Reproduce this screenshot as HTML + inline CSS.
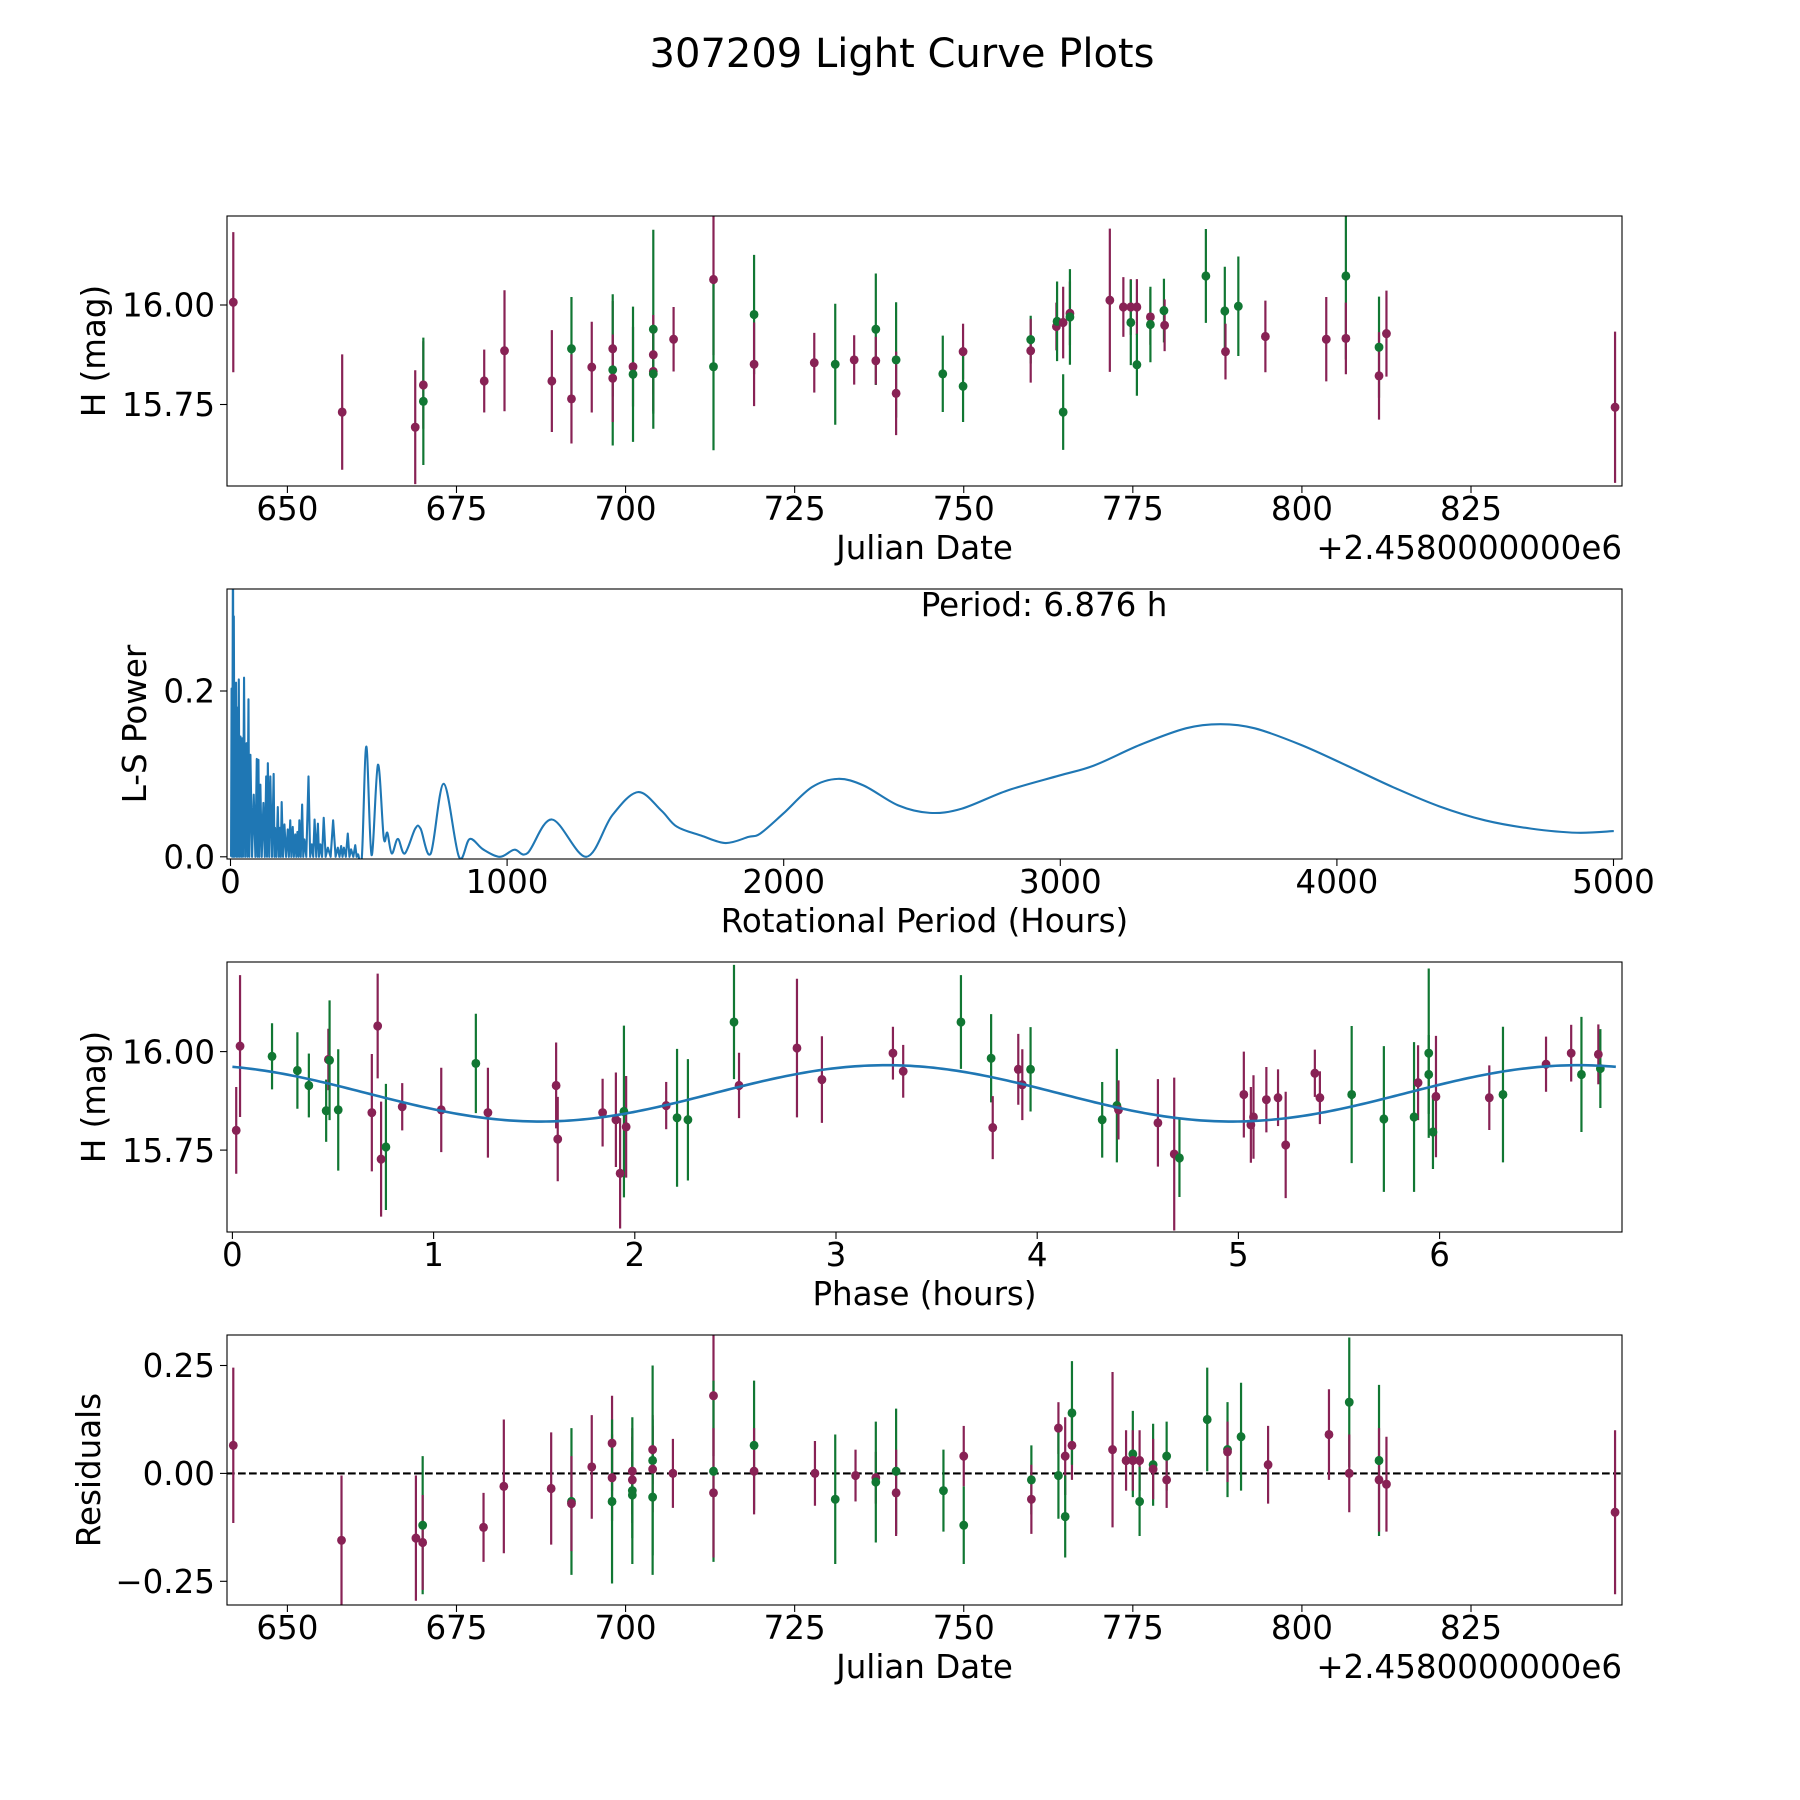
<!DOCTYPE html>
<html><head><meta charset="utf-8"><title>307209 Light Curve Plots</title>
<style>
html,body{margin:0;padding:0;background:#fff;}
svg{display:block;font-family:"DejaVu Sans","Liberation Sans",sans-serif;}
</style></head>
<body>
<svg id="fig" width="1800" height="1800" viewBox="0 0 1800 1800" xmlns="http://www.w3.org/2000/svg">
<rect width="1800" height="1800" fill="#fff"/>
<text x="902" y="67" font-size="40" text-anchor="middle">307209 Light Curve Plots</text>
</svg>
<script>
// ---------- Panel 1: light curve (date, mag, err, color) ----------
const lcDate = [642.0,658.1,668.9,670.1,670.1,679.1,682.1,689.1,692.0,692.0,695.0,698.1,698.1,698.1,701.1,701.1,704.1,704.1,704.1,704.1,707.1,713.0,713.0,719.0,719.0,727.9,731.0,733.8,737.0,737.0,740.0,740.0,746.9,749.9,749.9,759.9,759.9,763.7,763.8,764.7,764.7,765.7,765.7,771.6,773.6,774.7,774.7,775.6,775.6,777.6,777.6,779.6,779.7,785.8,788.6,788.7,790.6,794.6,803.6,806.5,806.5,811.4,811.4,812.5,846.3];
const lcMag = [16.007,15.731,15.693,15.799,15.758,15.809,15.885,15.809,15.890,15.764,15.844,15.890,15.837,15.816,15.845,15.826,15.939,15.875,15.833,15.827,15.914,16.064,15.845,15.976,15.851,15.855,15.851,15.862,15.939,15.860,15.862,15.778,15.827,15.883,15.796,15.913,15.885,15.946,15.959,15.956,15.731,15.979,15.970,16.012,15.995,15.995,15.956,15.995,15.850,15.970,15.951,15.986,15.949,16.073,15.985,15.883,15.997,15.921,15.914,16.073,15.916,15.894,15.822,15.928,15.743];
const lcErr = [0.176,0.145,0.143,0.11,0.16,0.079,0.152,0.128,0.13,0.112,0.114,0.12,0.19,0.11,0.10,0.17,0.25,0.10,0.10,0.10,0.081,0.19,0.21,0.15,0.105,0.075,0.152,0.062,0.14,0.06,0.145,0.105,0.096,0.07,0.09,0.06,0.08,0.06,0.10,0.09,0.095,0.08,0.12,0.18,0.075,0.07,0.107,0.07,0.078,0.07,0.095,0.08,0.065,0.118,0.111,0.07,0.125,0.09,0.106,0.21,0.09,0.127,0.11,0.108,0.19];
const lcFilt = ["M","M","M","M","G","M","M","M","G","M","M","M","G","M","M","G","G","M","M","G","M","M","G","G","M","M","G","M","G","M","G","M","G","M","G","G","M","M","G","M","G","M","G","M","M","M","G","M","G","M","G","G","M","G","G","M","G","M","M","G","M","G","M","M","M"];

// ---------- Panel 2: Lomb-Scargle periodogram ----------
const lsPeriod = [2,4,6,9,11,12,15,20,22,24,27,30,33,36,39,42,45,49,53,58,61,65,68,72,78,84,90,95,98,101,104,108,113,119,124,129,132,135,140,144,150,156,159,161,166,171,175,179,182,185,190,195,201,207,211,216,220,225,229,234,238,242,246,249,254,259,263,267,274,282,288,294,299,304,310,316,320,325,331,337,344,352,362,371,380,388,394,400,405,410,417,424,430,436,444,451,456,461,475,491,510,533,554,567,583,605,630,668,687,724,771,826,865,913,974,1026,1074,1162,1286,1380,1473,1557,1613,1702,1790,1873,1915,1998,2102,2196,2289,2414,2528,2643,2809,2996,3121,3288,3454,3579,3703,3870,4036,4203,4369,4535,4702,4868,5001];
const lsPower = [0.0,0.203,0.0,0.40,0.0,0.29,0.0,0.21,0.0,0.18,0.0,0.214,0.0,0.145,0.0,0.143,0.0,0.216,0.0,0.137,0.0,0.19,0.0,0.123,0.0,0.075,0.0,0.118,0.0,0.117,0.0,0.087,0.0,0.065,0.0,0.097,0.0,0.113,0.0,0.097,0.0,0.10,0.0,0.035,0.0,0.06,0.0,0.035,0.0,0.066,0.0,0.039,0.0,0.033,0.0,0.044,0.0,0.036,0.0,0.027,0.0,0.03,0.0,0.044,0.0,0.063,0.0,0.021,0.0,0.097,0.0,0.015,0.0,0.045,0.0,0.04,0.0,0.015,0.0,0.047,0.0,0.011,0.0,0.044,0.0,0.011,0.0,0.013,0.0,0.011,0.0,0.028,0.0,0.009,0.0,0.014,0.0,0.003,0.0,0.133,0.002,0.111,0.023,0.029,0.004,0.0215,0.004,0.034,0.034,0.004,0.088,0.0,0.0215,0.009,0.0,0.0085,0.0045,0.045,0.0,0.05,0.078,0.056,0.0365,0.0255,0.0166,0.024,0.028,0.052,0.084,0.094,0.086,0.062,0.053,0.058,0.080,0.098,0.110,0.135,0.155,0.160,0.155,0.135,0.110,0.084,0.061,0.044,0.034,0.029,0.031];
const bestPeriodLabel = "Period: 6.876 h";

// ---------- Panel 3: phased light curve ----------
const phPhase = [0.019,0.038,0.197,0.323,0.38,0.466,0.477,0.483,0.526,0.693,0.722,0.739,0.763,0.844,1.038,1.21,1.27,1.609,1.617,1.84,1.906,1.927,1.946,1.957,2.156,2.21,2.264,2.493,2.518,2.806,2.93,3.283,3.334,3.621,3.771,3.779,3.906,3.926,3.967,4.323,4.396,4.404,4.6,4.681,4.707,5.027,5.062,5.075,5.139,5.197,5.235,5.38,5.405,5.563,5.723,5.873,5.893,5.946,5.946,5.967,5.982,6.247,6.315,6.529,6.654,6.705,6.789,6.799];
const phMag = [15.80,16.014,15.988,15.952,15.914,15.85,15.980,15.978,15.852,15.845,16.065,15.727,15.758,15.86,15.852,15.970,15.845,15.914,15.778,15.845,15.827,15.691,15.848,15.809,15.863,15.832,15.827,16.075,15.914,16.009,15.929,15.996,15.950,16.075,15.983,15.807,15.955,15.916,15.955,15.827,15.863,15.852,15.819,15.74,15.73,15.891,15.814,15.834,15.878,15.883,15.763,15.945,15.883,15.891,15.829,15.834,15.921,15.996,15.942,15.796,15.886,15.883,15.891,15.968,15.996,15.942,15.993,15.957];
const phErr = [0.11,0.18,0.084,0.097,0.081,0.079,0.078,0.152,0.154,0.149,0.133,0.146,0.16,0.06,0.107,0.126,0.114,0.109,0.107,0.086,0.12,0.14,0.218,0.129,0.06,0.175,0.154,0.145,0.083,0.176,0.11,0.067,0.067,0.119,0.112,0.08,0.09,0.09,0.107,0.096,0.144,0.075,0.111,0.194,0.099,0.109,0.096,0.106,0.083,0.072,0.135,0.06,0.067,0.174,0.185,0.19,0.095,0.215,0.10,0.094,0.154,0.082,0.172,0.07,0.072,0.146,0.076,0.10];
const phFilt = ["M","M","G","G","G","G","M","G","G","M","M","M","G","M","M","G","M","M","M","M","M","M","G","M","M","G","G","G","M","M","M","M","M","G","G","M","M","M","G","G","G","M","M","M","G","M","M","M","M","M","M","M","M","G","G","G","M","G","G","G","M","M","G","M","M","G","M","G"];
const fitMean = 15.894, fitAmp = 0.0715, fitPeak = 3.25, fitHalfPeriod = 3.438;

// ---------- Panel 4: residuals ----------
const rsDate = [642,658,669,670,670,679,682,689,692,692,695,698,698,698,701,701,701,701,704,704,704,704,707,713,713,713,719,719,728,731,734,737,737,740,740,747,750,750,760,760,764,764,765,765,766,766,772,774,775,775,776,776,778,778,780,780,786,789,789,791,795,804,807,807,811.4,811.4,812.5,846.3];
const rsVal = [0.065,-0.155,-0.15,-0.12,-0.16,-0.125,-0.03,-0.035,-0.065,-0.07,0.015,0.07,-0.01,-0.065,0.005,-0.015,-0.04,-0.05,0.055,0.03,0.01,-0.055,0.0,0.18,0.005,-0.045,0.065,0.005,0.0,-0.06,-0.005,-0.01,-0.02,0.005,-0.045,-0.04,0.04,-0.12,-0.015,-0.06,0.105,-0.005,0.04,-0.1,0.065,0.14,0.055,0.03,0.045,0.03,0.03,-0.065,0.02,0.01,0.04,-0.015,0.125,0.055,0.05,0.085,0.02,0.09,0.165,0.0,0.03,-0.015,-0.025,-0.09];
const rsErr = [0.18,0.15,0.145,0.16,0.11,0.08,0.155,0.13,0.17,0.11,0.12,0.11,0.10,0.19,0.10,0.10,0.17,0.10,0.08,0.22,0.10,0.18,0.08,0.14,0.21,0.15,0.15,0.10,0.075,0.15,0.06,0.06,0.14,0.145,0.10,0.095,0.07,0.09,0.08,0.08,0.06,0.10,0.09,0.095,0.08,0.12,0.18,0.07,0.10,0.07,0.07,0.08,0.095,0.07,0.08,0.065,0.12,0.11,0.07,0.125,0.09,0.105,0.15,0.09,0.175,0.12,0.11,0.19];
const rsFilt = ["M","M","M","G","M","M","M","M","G","M","M","M","M","G","M","M","G","G","M","G","M","G","M","M","G","M","G","M","M","G","M","M","G","G","M","G","M","G","G","M","M","G","M","G","M","G","M","M","G","M","M","G","G","M","G","M","G","G","M","G","M","M","G","M","G","M","M","M"];

const COLORS = {M:"#882255", G:"#117733"};
const NS = "http://www.w3.org/2000/svg";
const svg = document.getElementById("fig");
const L = 227, R = 1622;
const AX = [{t:216,b:486},{t:589,b:859},{t:962,b:1232},{t:1335,b:1605}];

function mk(tag, attrs, parent){
  const e = document.createElementNS(NS, tag);
  for (const k in attrs) e.setAttribute(k, attrs[k]);
  (parent||svg).appendChild(e);
  return e;
}
function linScale(d0,d1,r0,r1){ return v => r0 + (v-d0)*(r1-r0)/(d1-d0); }

function drawFrame(i, xs, ys, xticks, xfmt, yticks, yfmt, xlabel, ylabel, ylabelX, name){
  const g = mk("g", {});
  
  
  const a = AX[i];
  const clip = mk("clipPath", {id:"clip"+i}, g);
  mk("rect", {x:L, y:a.t, width:R-L, height:a.b-a.t}, clip);
  const plot = mk("g", {"clip-path":"url(#clip"+i+")"}, g);
  
  
  xticks.forEach(v => {
    const x = xs(v);
    mk("line", {x1:x, x2:x, y1:a.b, y2:a.b+7, stroke:"#000", "stroke-width":1.1}, g);
    const t = mk("text", {x:x, y:a.b+34, "font-size":32.5, "text-anchor":"middle"}, g);
    t.textContent = xfmt(v);
    
    
  });
  yticks.forEach(v => {
    const y = ys(v);
    mk("line", {x1:L-7, x2:L, y1:y, y2:y, stroke:"#000", "stroke-width":1.1}, g);
    const t = mk("text", {x:L-12, y:y+11.7, "font-size":32.5, "text-anchor":"end"}, g);
    t.textContent = yfmt(v);
    
    
  });
  const xl = mk("text", {x:(L+R)/2, y:a.b+73, "font-size":32.5, "text-anchor":"middle"}, g);
  xl.textContent = xlabel;
  
  
  const cy = (a.t+a.b)/2;
  const yl = mk("text", {x:ylabelX, y:cy, "font-size":32.5, "text-anchor":"middle", transform:"rotate(-90 "+ylabelX+" "+cy+")"}, g);
  yl.textContent = ylabel;
  
  
  return {g, plot};
}
function frameBorder(i, g){
  const a = AX[i];
  const r = mk("rect", {x:L, y:a.t, width:R-L, height:a.b-a.t, fill:"none", stroke:"#000", "stroke-width":1.1}, g);
  
  
}
function errPoints(plot, xs, ys, X, Y, E, F, label){
  for (let k=0;k<X.length;k++){
    const x = xs(X[k]), c = COLORS[F[k]];
    const ln = mk("line", {x1:x, x2:x, y1:ys(Y[k]-E[k]), y2:ys(Y[k]+E[k]), stroke:c, "stroke-width":2.2}, plot);
    
    
  }
  for (let k=0;k<X.length;k++){
    const c = COLORS[F[k]];
    const p = mk("ellipse", {cx:xs(X[k]), cy:ys(Y[k]), rx:4.4, ry:4.6, fill:c}, plot);
    
    
  }
}
const f2 = v => v.toFixed(2);
const fint = v => String(v);
const dateTicks = [650,675,700,725,750,775,800,825];
const xDate = linScale(650, 825, 287.4, 1471);

// Panel 1
{
  const ys = linScale(15.75, 16.00, 404.5, 305);
  const {g, plot} = drawFrame(0, xDate, ys, dateTicks, fint, [15.75,16.00], f2, "Julian Date", "H (mag)", 105, "light-curve-axes");
  errPoints(plot, xDate, ys, lcDate, lcMag, lcErr, lcFilt, "light-curve");
  frameBorder(0, g);
  const off = mk("text", {x:R, y:AX[0].b+73, "font-size":32.5, "text-anchor":"end"}, g);
  off.textContent = "+2.4580000000e6";
  
  
}
// Panel 2
{
  const xs = linScale(0, 5000, 230.5, 1613.5);
  const ys = linScale(0, 0.2, 856.8, 691);
  const {g, plot} = drawFrame(1, xs, ys, [0,1000,2000,3000,4000,5000], fint, [0.0,0.2], v=>v.toFixed(1), "Rotational Period (Hours)", "L-S Power", 146, "periodogram-axes");
  const pts = lsPeriod.map((p,k)=>[xs(p), ys(lsPower[k])]);
  let d = "M"+pts[0][0]+","+pts[0][1];
  for (let k=0;k<pts.length-1;k++){
    const p0 = pts[Math.max(k-1,0)], p1 = pts[k], p2 = pts[k+1], p3 = pts[Math.min(k+2,pts.length-1)];
    if (lsPeriod[k+1] < 470) { d += " L"+p2[0]+","+p2[1]; continue; }
    const c1 = [p1[0]+(p2[0]-p0[0])/6, p1[1]+(p2[1]-p0[1])/6];
    const c2 = [p2[0]-(p3[0]-p1[0])/6, p2[1]-(p3[1]-p1[1])/6];
    d += " C"+c1[0]+","+c1[1]+" "+c2[0]+","+c2[1]+" "+p2[0]+","+p2[1];
  }
  const path = mk("path", {d:d, fill:"none", stroke:"#1f77b4", "stroke-width":2.1, "stroke-linejoin":"round"}, plot);
  
  
  frameBorder(1, g);
  const pl = mk("text", {x:1044, y:616, "font-size":32.5, "text-anchor":"middle"}, g);
  pl.textContent = bestPeriodLabel;
  
  
}
// Panel 3
{
  const xs = linScale(0, 1, 232.4, 433.6);
  const ys = linScale(15.75, 16.00, 1150.1, 1051.6);
  const {g, plot} = drawFrame(2, xs, ys, [0,1,2,3,4,5,6], fint, [15.75,16.00], f2, "Phase (hours)", "H (mag)", 105, "phased-curve-axes");
  errPoints(plot, xs, ys, phPhase, phMag, phErr, phFilt, "phased");
  let d = "";
  for (let k=0;k<=300;k++){
    const t = 6.876*k/300;
    const m = fitMean + fitAmp*Math.cos(2*Math.PI*(t-fitPeak)/fitHalfPeriod);
    d += (k? " L":"M") + xs(t).toFixed(2) + "," + ys(m).toFixed(2);
  }
  const fit = mk("path", {d:d, fill:"none", stroke:"#1f77b4", "stroke-width":2.6}, plot);
  
  
  frameBorder(2, g);
}
// Panel 4
{
  const ys = linScale(0, 0.25, 1473.4, 1365.5);
  const {g, plot} = drawFrame(3, xDate, ys, dateTicks, fint, [-0.25,0,0.25], v=>(v<0?"\u2212":"")+Math.abs(v).toFixed(2), "Julian Date", "Residuals", 100, "residuals-axes");
  const zl = mk("line", {x1:L, x2:R, y1:ys(0), y2:ys(0), stroke:"#000", "stroke-width":2.1, "stroke-dasharray":"7.7,3.3"}, plot);
  
  
  errPoints(plot, xDate, ys, rsDate, rsVal, rsErr, rsFilt, "residual");
  frameBorder(3, g);
  const off = mk("text", {x:R, y:AX[3].b+73, "font-size":32.5, "text-anchor":"end"}, g);
  off.textContent = "+2.4580000000e6";
  
  
}
</script>
</body></html>
